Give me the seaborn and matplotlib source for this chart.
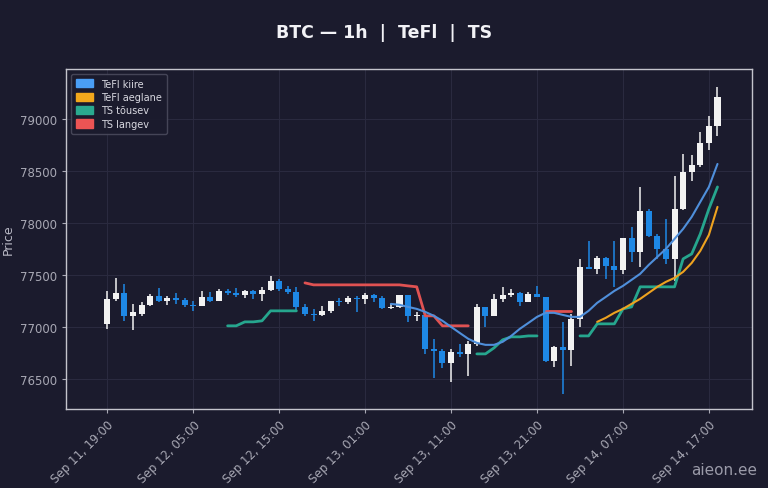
import matplotlib
matplotlib.use("Agg")
import matplotlib.pyplot as plt
import matplotlib.dates as mdates
from matplotlib.patches import Patch
import seaborn as sns
import pandas as pd
import numpy as np

nan = np.nan

# ----- data -----
start = "2025-09-11 19:00"
n_bars = 72

opens = [77029, 77269, 77327, 77106, 77125, 77212, 77298, 77250, 77279, 77260,
         77212, 77202, 77288, 77250, 77346, 77327, 77308, 77346, 77317, 77356,
         77442, 77365, 77337, 77192, 77125, 77115, 77154, 77250, 77240, 77279,
         77269, 77308, 77279, 77183, 77192, 77308, 77106, 77115, 76788, 76770,
         76654, 76760, 76740, 76837, 77192, 77106, 77269, 77308, 77327, 77240,
         77317, 77288, 76673, 76808, 76779, 77077, 77577, 77558, 77663, 77587,
         77548, 77856, 77721, 78115, 77875, 77750, 77654, 78135, 78490, 78557,
         78769, 78933]
highs = [77346, 77471, 77413, 77221, 77240, 77317, 77375, 77298, 77327, 77279,
         77250, 77346, 77337, 77365, 77365, 77375, 77356, 77356, 77385, 77490,
         77462, 77394, 77385, 77221, 77173, 77202, 77250, 77279, 77298, 77298,
         77327, 77317, 77298, 77221, 77308, 77308, 77144, 77125, 76885, 76788,
         76788, 76837, 76865, 77221, 77192, 77317, 77385, 77365, 77337, 77337,
         77394, 77288, 76817, 77048, 77125, 77654, 77827, 77683, 77673, 77827,
         77856, 77962, 78346, 78135, 77894, 78038, 78452, 78663, 78654, 78875,
         79029, 79308]
lows = [76981, 77250, 77058, 76971, 77106, 77202, 77240, 77212, 77221, 77190,
        77154, 77202, 77240, 77250, 77308, 77288, 77279, 77269, 77250, 77346,
        77346, 77317, 77154, 77106, 77058, 77106, 77135, 77202, 77221, 77144,
        77221, 77240, 77173, 77173, 77183, 77048, 77058, 76740, 76510, 76606,
        76471, 76712, 76529, 76817, 77000, 77106, 77240, 77288, 77202, 77240,
        77288, 76663, 76615, 76356, 76625, 77000, 77558, 77510, 77462, 77385,
        77510, 77625, 77577, 77865, 77654, 77606, 77442, 78125, 78404, 78538,
        78702, 78836]
closes = [77269, 77327, 77106, 77144, 77212, 77298, 77250, 77279, 77260, 77212,
          77202, 77288, 77250, 77346, 77327, 77308, 77346, 77317, 77356, 77442,
          77365, 77337, 77192, 77125, 77115, 77154, 77250, 77240, 77279, 77269,
          77308, 77279, 77183, 77192, 77308, 77106, 77115, 76788, 76770, 76654,
          76760, 76740, 76837, 77192, 77106, 77269, 77308, 77327, 77240, 77317,
          77288, 76673, 76808, 76779, 77077, 77577, 77558, 77663, 77587, 77548,
          77856, 77721, 78115, 77875, 77750, 77654, 78135, 78490, 78557, 78769,
          78933, 79212]

# TeFl kiire (fast) from bar 33
tefl_fast = [nan] * 33 + [
    77221, 77212, 77192, 77173, 77144, 77106, 77058, 77000, 76942, 76885,
    76846, 76827, 76827, 76856, 76913, 76981, 77038, 77096, 77135, 77135,
    77115, 77096, 77096, 77154, 77231, 77288, 77346, 77394, 77452, 77510,
    77596, 77673, 77750, 77846, 77942, 78058, 78202, 78346, 78567]
# TeFl aeglane (slow) from bar 57
tefl_slow = [nan] * 57 + [
    77048, 77087, 77135, 77173, 77221, 77269, 77327, 77385, 77433, 77471,
    77529, 77615, 77731, 77885, 78154]
# TS tousev (up trend)
ts_up = ([nan] * 14 +
         [77010, 77010, 77048, 77048, 77058, 77154, 77154, 77154, 77154] +
         [nan] * 20 +
         [76740, 76740, 76798, 76875, 76904, 76904, 76913, 76913] +
         [nan] * 4 +
         [76913, 76913, 77029, 77029, 77029, 77173, 77192, 77385, 77385, 77385,
          77385, 77385, 77654, 77702, 77894, 78135, 78346])
# TS langev (down trend)
ts_down = ([nan] * 23 +
           [77423, 77404, 77404, 77404, 77404, 77404, 77404, 77404, 77404, 77404,
            77404, 77404, 77394, 77385, 77106, 77106, 77010, 77010, 77010, 77010] +
           [nan] * 8 +
           [77154, 77154, 77154, 77154] +
           [nan] * 17)

times = pd.date_range(start, periods=n_bars, freq="h")
df = pd.DataFrame({"time": times, "open": opens, "high": highs, "low": lows,
                   "close": closes, "fast": tefl_fast, "slow": tefl_slow,
                   "ts_up": ts_up, "ts_down": ts_down})

# ----- style -----
bg = "#1b1b2d"
sns.set_theme(style="dark", rc={
    "figure.facecolor": bg, "axes.facecolor": bg, "axes.edgecolor": "#c4c4cc",
    "axes.labelcolor": "#b8b8c4", "xtick.color": "#a8a8b4", "ytick.color": "#a8a8b4",
    "text.color": "#e8e8ee", "axes.grid": True, "grid.color": "#2a2a3f",
    "grid.linewidth": 0.8, "xtick.bottom": True, "ytick.left": True})
plt.rcParams["font.family"] = ["DejaVu Sans"]

up_col = "#f2f2f2"
dn_col = "#1e88e5"
fast_col = "#4f8fdb"
slow_col = "#eea21f"
green_col = "#26a68e"
red_col = "#e05252"

fig = plt.figure(figsize=(7.68, 4.89), dpi=100)
ax = fig.add_axes([0.086, 0.162, 0.893, 0.695])

# ----- candles -----
w = pd.Timedelta(minutes=42)
for _, r in df.iterrows():
    col = up_col if r["close"] >= r["open"] else dn_col
    ax.vlines(r["time"], r["low"], r["high"], color=col, linewidth=1.1, zorder=3)
    lo = min(r["open"], r["close"])
    hgt = max(abs(r["close"] - r["open"]), 8)
    ax.bar(r["time"] - w / 2, hgt, width=w, bottom=lo, color=col,
           align="edge", linewidth=0, zorder=4)

# ----- indicator lines, broken where the value is missing -----
def draw_segments(col_name, color, lw):
    s = df[col_name]
    seg = s.isna().cumsum()
    part = df.loc[s.notna()].assign(seg=seg[s.notna()])
    for _, g in part.groupby("seg"):
        sns.lineplot(data=g, x="time", y=col_name, color=color, linewidth=lw,
                     ax=ax, zorder=5, legend=False)

draw_segments("ts_up", green_col, 2.0)
draw_segments("ts_down", red_col, 2.0)
draw_segments("slow", slow_col, 1.5)
draw_segments("fast", fast_col, 1.5)

# ----- axes -----
ax.set_xlim(times[0] - pd.Timedelta(hours=4.8), times[-1] + pd.Timedelta(hours=4.0))
ax.set_ylim(76212, 79481)
ax.set_yticks([76500, 77000, 77500, 78000, 78500, 79000])
ax.set_xticks(times[::10])
ax.xaxis.set_major_formatter(mdates.DateFormatter("%b %d, %H:%M"))
plt.setp(ax.get_xticklabels(), rotation=45, ha="right", rotation_mode="anchor")
ax.tick_params(labelsize=8.5, length=3, width=0.8, colors="#a8a8b4")
ax.set_xlabel("")
ax.set_ylabel("Price", fontsize=9)
for sp in ax.spines.values():
    sp.set_color("#c4c4cc")
    sp.set_linewidth(1.0)

fig.suptitle("BTC — 1h  |  TeFl  |  TS", fontsize=12.5, fontweight="bold",
             color="#f2f2f6", y=0.95)

handles = [Patch(color="#4a9ef5", label="TeFl kiire"),
           Patch(color="#f2a81c", label="TeFl aeglane"),
           Patch(color="#2aa98f", label="TS tõusev"),
           Patch(color="#ec5454", label="TS langev")]
leg = ax.legend(handles=handles, loc="upper left", fontsize=7, frameon=True,
                facecolor=bg, edgecolor="#4a4a5c", labelcolor="#d8d8e0",
                handlelength=1.8, handleheight=0.9, borderpad=0.5, labelspacing=0.35)
leg.get_frame().set_alpha(0.9)

fig.text(0.986, 0.038, "aieon.ee", fontsize=11, color="#9a9aa8", ha="right", va="center")

fig.savefig("out.png", dpi=100, facecolor=bg)
